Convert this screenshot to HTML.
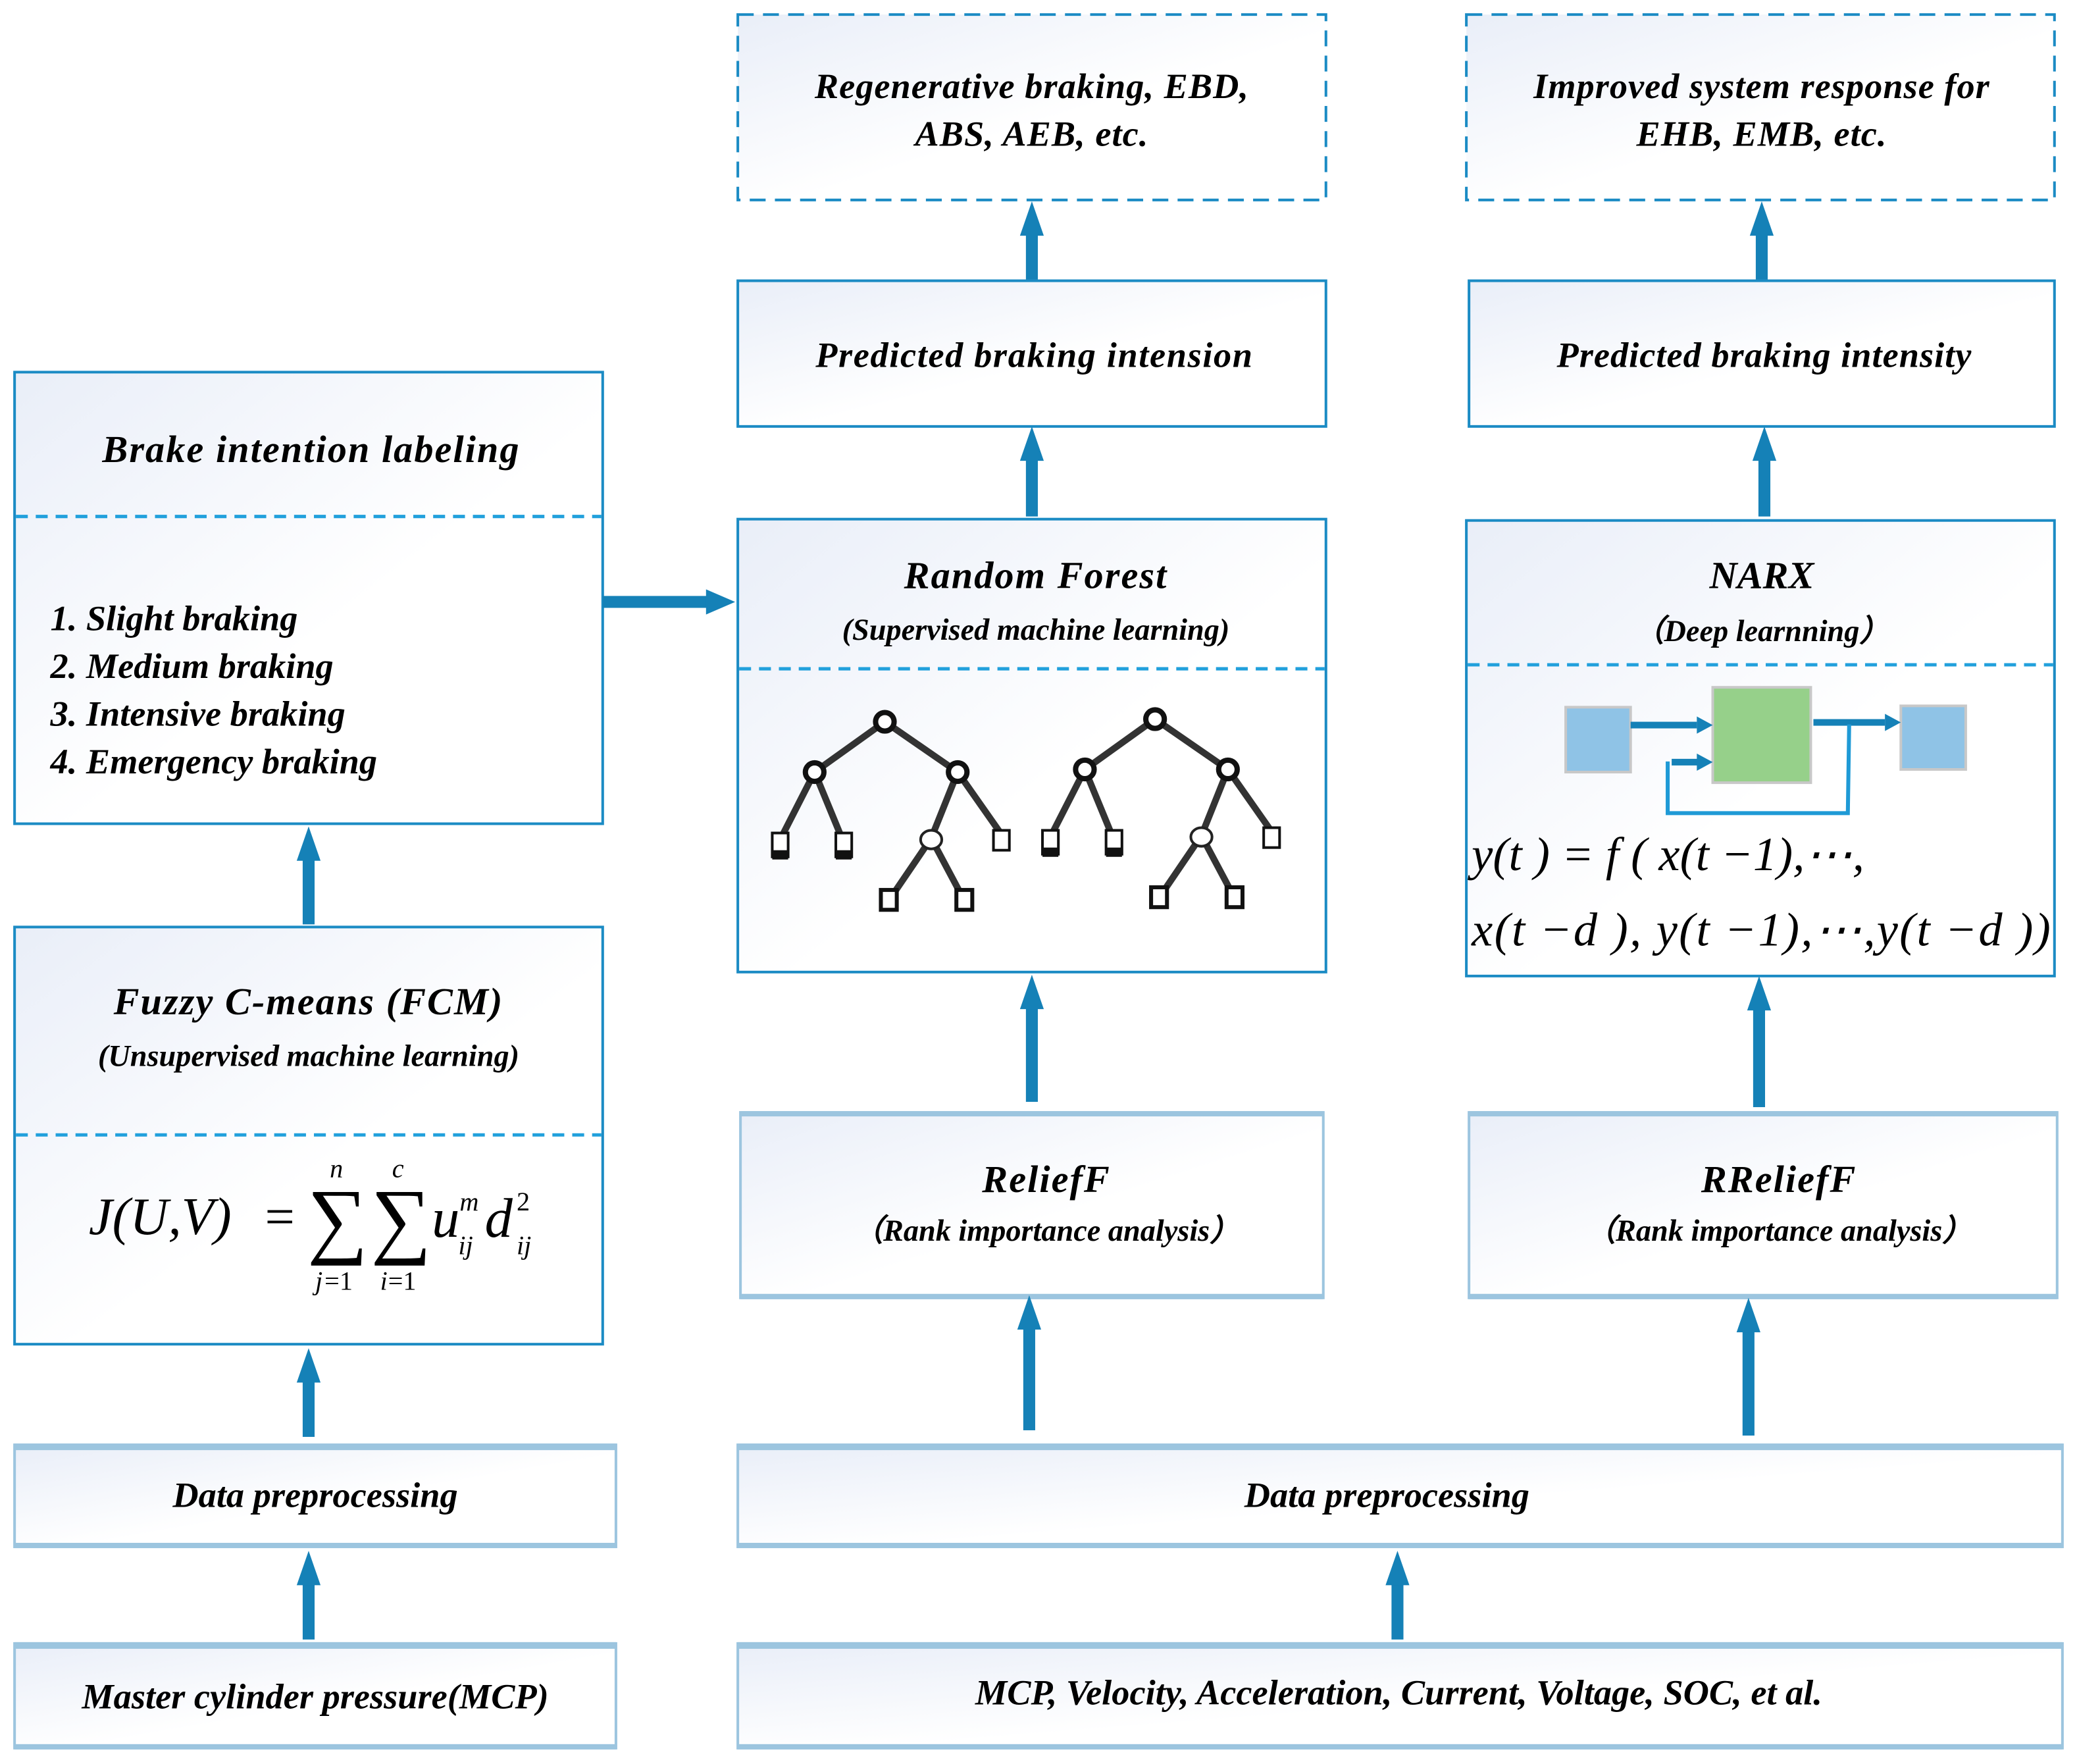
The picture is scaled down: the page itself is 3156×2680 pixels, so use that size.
<!DOCTYPE html>
<html><head><meta charset="utf-8"><style>
html,body{margin:0;padding:0;background:#fff;}
svg{display:block;}
text{font-family:"Liberation Serif","Times New Roman",Times,serif;font-style:italic;font-weight:bold;fill:#000;}
.m{font-weight:normal;}
</style></head><body>
<svg width="3156" height="2680" viewBox="0 0 1568 1332" preserveAspectRatio="none" xmlns="http://www.w3.org/2000/svg">
<defs>
<linearGradient id="g" x1="0" y1="0" x2="1" y2="1">
<stop offset="0" stop-color="#e9eef8"/><stop offset="0.55" stop-color="#ffffff"/><stop offset="1" stop-color="#ffffff"/>
</linearGradient>
</defs>

<g stroke="#1b8bc4" stroke-width="2" fill="url(#g)">
<rect x="11" y="281" width="444" height="341"/>
<rect x="11" y="700" width="444" height="315"/>
<rect x="557" y="212" width="444" height="110"/>
<rect x="1109" y="212" width="442" height="110"/>
<rect x="557" y="392" width="444" height="342"/>
<rect x="1107" y="393" width="444" height="344"/>
</g>
<g stroke="#1b8bc4" stroke-width="2" fill="url(#g)" stroke-dasharray="12,7">
<rect x="557" y="11" width="444" height="140"/>
<rect x="1107" y="11" width="444" height="140"/>
</g>
<g fill="url(#g)" stroke="#9cc5df" stroke-width="2">
<rect x="559" y="840" width="440" height="140"/>
<rect x="1109" y="840" width="444" height="140"/>
<rect x="11" y="1091" width="454" height="77"/>
<rect x="11" y="1241" width="454" height="79"/>
<rect x="557" y="1091" width="1000" height="77"/>
<rect x="557" y="1241" width="1000" height="79"/>
</g>
<g fill="#9cc5df">
<rect x="559" y="839" width="440" height="4"/><rect x="559" y="977" width="440" height="4"/>
<rect x="1109" y="839" width="444" height="4"/><rect x="1109" y="977" width="444" height="4"/>
<rect x="11" y="1090" width="454" height="5"/><rect x="11" y="1165" width="454" height="4"/>
<rect x="11" y="1240" width="454" height="5"/><rect x="11" y="1317" width="454" height="4"/>
<rect x="557" y="1090" width="1000" height="5"/><rect x="557" y="1165" width="1000" height="4"/>
<rect x="557" y="1240" width="1000" height="5"/><rect x="557" y="1317" width="1000" height="4"/>
</g>
<g stroke="#21a0dc" stroke-width="2.5" stroke-dasharray="9,6">
<line x1="12" y1="390" x2="454" y2="390"/>
<line x1="12" y1="857" x2="454" y2="857"/>
<line x1="558" y1="505" x2="1000" y2="505"/>
<line x1="1108" y1="502" x2="1550" y2="502"/>
</g>

<g fill="#1581b7">
<rect x="228.5" y="647" width="9" height="51"/><polygon points="224,650 233,624 242,650"/>
<rect x="228.5" y="1043" width="9" height="42"/><polygon points="224,1044 233,1018 242,1044"/>
<rect x="228.5" y="1196" width="9" height="42"/><polygon points="224,1197 233,1171 242,1197"/>
<rect x="774.5" y="175" width="9" height="36"/><polygon points="770,178 779,152 788,178"/>
<rect x="774.5" y="345" width="9" height="45"/><polygon points="770,348 779,322 788,348"/>
<rect x="774.5" y="759" width="9" height="73"/><polygon points="770,762 779,736 788,762"/>
<rect x="772.5" y="1001" width="9" height="79"/><polygon points="768,1004 777,978 786,1004"/>
<rect x="1325.5" y="175" width="9" height="36"/><polygon points="1321,178 1330,152 1339,178"/>
<rect x="1327.5" y="345" width="9" height="45"/><polygon points="1323,348 1332,322 1341,348"/>
<rect x="1323.5" y="760" width="9" height="76"/><polygon points="1319,763 1328,737 1337,763"/>
<rect x="1315.5" y="1003" width="9" height="81"/><polygon points="1311,1006 1320,980 1329,1006"/>
<rect x="1050.5" y="1194" width="9" height="44"/><polygon points="1046,1197 1055,1171 1064,1197"/>
<rect x="455" y="450" width="80" height="9"/><polygon points="533,445 555,454.5 533,464"/>
</g>

<text x="235" y="349" text-anchor="middle" font-size="29" letter-spacing="1">Brake intention labeling</text>
<text x="38" y="476" font-size="27">1. Slight braking</text>
<text x="38" y="512" font-size="27">2. Medium braking</text>
<text x="38" y="548" font-size="27">3. Intensive braking</text>
<text x="38" y="584" font-size="27">4. Emergency braking</text>

<text x="233" y="766" text-anchor="middle" font-size="29" letter-spacing="1">Fuzzy C-means (FCM)</text>
<text x="233" y="805" text-anchor="middle" font-size="23">(Unsupervised machine learning)</text>

<text class="m" x="67" y="932" font-size="40">J(U,V)</text>
<text class="m" x="200" y="932" font-size="40" style="font-style:normal">=</text>
<text class="m" x="232" y="942" font-size="64" style="font-style:normal">∑</text>
<text class="m" x="280" y="942" font-size="64" style="font-style:normal">∑</text>
<text class="m" x="249" y="889" font-size="20">n</text>
<text class="m" x="296" y="889" font-size="20">c</text>
<text class="m" x="238" y="974" font-size="20">j</text><text class="m" x="245" y="974" font-size="20" style="font-style:normal">=1</text>
<text class="m" x="287" y="974" font-size="20">i</text><text class="m" x="293" y="974" font-size="20" style="font-style:normal">=1</text>
<text class="m" x="326" y="934" font-size="42">u</text>
<text class="m" x="347" y="914" font-size="20">m</text>
<text class="m" x="346" y="947" font-size="20">ij</text>
<text class="m" x="366" y="934" font-size="42">d</text>
<text class="m" x="390" y="914" font-size="20" style="font-style:normal">2</text>
<text class="m" x="390" y="947" font-size="20">ij</text>

<text x="779" y="74" text-anchor="middle" font-size="27" letter-spacing="0.5">Regenerative braking, EBD,</text>
<text x="779" y="110" text-anchor="middle" font-size="27" letter-spacing="0.5">ABS, AEB,  etc.</text>
<text x="1330" y="74" text-anchor="middle" font-size="27" letter-spacing="0.5">Improved system response for</text>
<text x="1330" y="110" text-anchor="middle" font-size="27" letter-spacing="0.5">EHB, EMB, etc.</text>
<text x="781" y="277" text-anchor="middle" font-size="27" letter-spacing="0.8">Predicted braking intension</text>
<text x="1332" y="277" text-anchor="middle" font-size="27" letter-spacing="0.5">Predicted braking intensity</text>

<text x="782" y="444" text-anchor="middle" font-size="29" letter-spacing="1">Random Forest</text>
<text x="782" y="483" text-anchor="middle" font-size="23">(Supervised machine learning)</text>
<text x="1330" y="444" text-anchor="middle" font-size="29">NARX</text>
<text x="1330" y="484" text-anchor="middle" font-size="23">（Deep learnning）</text>

<text x="790" y="900" text-anchor="middle" font-size="29" letter-spacing="1">ReliefF</text>
<text x="790" y="937" text-anchor="middle" font-size="23">（Rank importance analysis）</text>
<text x="1343" y="900" text-anchor="middle" font-size="29" letter-spacing="1">RReliefF</text>
<text x="1343" y="937" text-anchor="middle" font-size="23">（Rank importance analysis）</text>

<text x="238" y="1138" text-anchor="middle" font-size="27">Data preprocessing</text>
<text x="238" y="1290" text-anchor="middle" font-size="27">Master cylinder pressure(MCP)</text>
<text x="1047" y="1138" text-anchor="middle" font-size="27">Data preprocessing</text>
<text x="1056" y="1287" text-anchor="middle" font-size="27">MCP, Velocity, Acceleration, Current, Voltage, SOC, et al.</text>

<rect x="1182" y="534" width="49" height="49" fill="#8fc3e6" stroke="#c8c8c8" stroke-width="2"/>
<rect x="1293" y="519" width="74" height="72" fill="#96d08a" stroke="#c8c8c8" stroke-width="2"/>
<rect x="1435" y="533" width="49" height="48" fill="#8fc3e6" stroke="#c8c8c8" stroke-width="2"/>
<g fill="#1581b7">
<rect x="1231" y="545" width="50" height="5"/><polygon points="1281,541 1293,547.5 1281,554"/>
<rect x="1369" y="543" width="54" height="5"/><polygon points="1423,539 1435,545.5 1423,552"/>
<rect x="1262" y="573" width="20" height="5"/><polygon points="1281,569 1293,575.5 1281,582"/>
</g>
<polyline points="1396,547 1395,614 1259,614 1259,575" fill="none" stroke="#1f9ad6" stroke-width="3"/>
<text class="m" x="1111" y="657" font-size="36">y(t ) = f ( x(t −1),⋯,</text>
<text class="m" x="1111" y="714" font-size="36" textLength="437">x(t −d ), y(t −1),⋯,y(t −d ))</text>

<g id="tree" stroke="#333" stroke-width="5" fill="none">
<line x1="668" y1="545" x2="615" y2="583"/><line x1="668" y1="545" x2="723" y2="583"/>
<line x1="615" y1="583" x2="589" y2="634"/><line x1="615" y1="583" x2="636" y2="634"/>
<line x1="723" y1="583" x2="703" y2="633"/><line x1="723" y1="583" x2="756" y2="630"/>
<line x1="703" y1="633" x2="671" y2="680"/><line x1="703" y1="633" x2="728" y2="680"/>
<circle cx="668" cy="545" r="7" fill="#fff" stroke="#111" stroke-width="4"/>
<circle cx="615" cy="583" r="7" fill="#fff" stroke="#111" stroke-width="4"/>
<circle cx="723" cy="583" r="7" fill="#fff" stroke="#111" stroke-width="4"/>
<ellipse cx="703" cy="634" rx="8" ry="7" fill="#fff" stroke="#222" stroke-width="2"/>
<rect x="583" y="629" width="12" height="18" fill="#fff" stroke="#111" stroke-width="2"/>
<rect x="583" y="642" width="12" height="7" fill="#111" stroke="none"/>
<rect x="631" y="629" width="12" height="18" fill="#fff" stroke="#111" stroke-width="2"/>
<rect x="631" y="642" width="12" height="7" fill="#111" stroke="none"/>
<rect x="750" y="627" width="12" height="15" fill="#fff" stroke="#111" stroke-width="2"/>
<rect x="665" y="672" width="12" height="15" fill="#fff" stroke="#111" stroke-width="3"/>
<rect x="722" y="672" width="12" height="15" fill="#fff" stroke="#111" stroke-width="3"/>
</g>
<use href="#tree" x="204" y="-2"/>
</svg>
</body></html>
